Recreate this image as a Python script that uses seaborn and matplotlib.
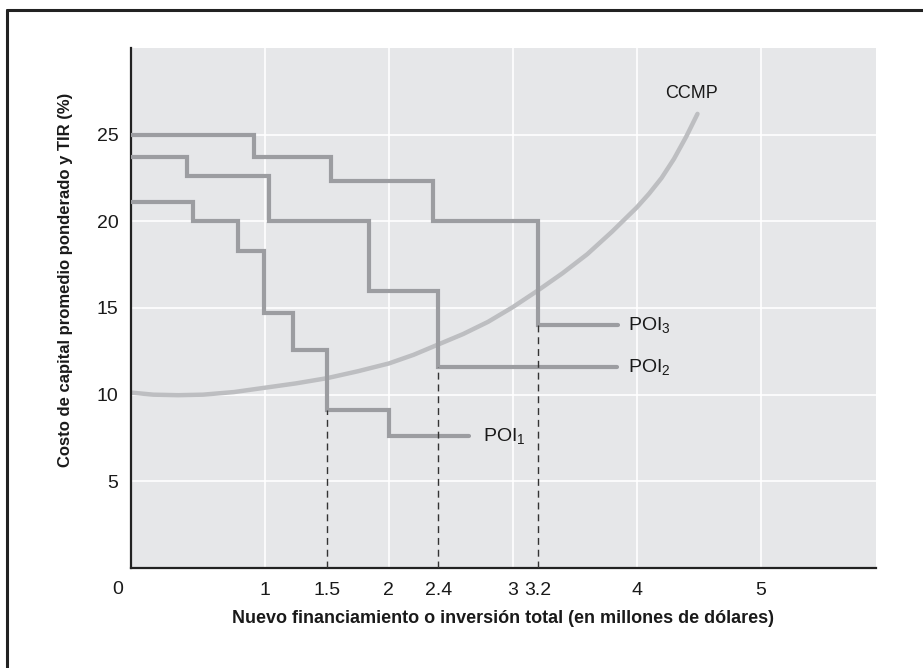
import numpy as np
import pandas as pd
import seaborn as sns
import matplotlib.pyplot as plt
from matplotlib.lines import Line2D
from matplotlib.transforms import ScaledTranslation

# Data
x_origin = -0.08
poi1_x = [x_origin, 0.42, 0.78, 0.99, 1.23, 1.5, 2.0, 2.65]
poi1_y = [21.1, 20.0, 18.3, 14.7, 12.6, 9.1, 7.6, 7.6]
poi2_x = [x_origin, 0.37, 1.03, 1.84, 2.4, 3.84]
poi2_y = [23.7, 22.6, 20.0, 16.0, 11.6, 11.6]
poi3_x = [x_origin, 0.91, 1.53, 2.36, 3.2, 3.85]
poi3_y = [25.0, 23.7, 22.3, 20.0, 14.0, 14.0]
ccmp_x = [x_origin, 0.1, 0.3, 0.5, 0.75, 1.0, 1.25, 1.5, 1.75, 2.0, 2.2, 2.4, 2.6, 2.8,
          3.0, 3.2, 3.4, 3.6, 3.8, 4.0, 4.1, 4.2, 4.3, 4.4, 4.49]
ccmp_y = [10.12, 10.0, 9.97, 10.0, 10.15, 10.4, 10.65, 10.95, 11.35, 11.8, 12.3, 12.9,
          13.5, 14.2, 15.05, 16.0, 17.0, 18.1, 19.4, 20.8, 21.6, 22.5, 23.6, 24.9, 26.2]
cut_x = [1.5, 2.4, 3.2]
cut_y = [9.1, 11.6, 14.0]
major_ticks = [1, 2, 3, 4, 5]
minor_ticks = [1.5, 2.4, 3.2]
y_ticks = [5, 10, 15, 20, 25]

sns.set_style('ticks')
fonts = ['Liberation Sans', 'DejaVu Sans']
plt.rcParams['font.family'] = fonts
plt.rcParams['mathtext.fontset'] = 'custom'
plt.rcParams['mathtext.rm'] = 'Liberation Sans'
plt.rcParams['mathtext.it'] = 'Liberation Sans'

fig = plt.figure(figsize=(9.23, 6.68), dpi=100)
ax = fig.add_axes([131/923, 100/668, 745/923, 520/668])
ax.set_facecolor('#e6e7e9')

step_col = '#9c9da1'
for xs, ys in [(poi1_x, poi1_y), (poi2_x, poi2_y), (poi3_x, poi3_y)]:
    df = pd.DataFrame({'x': xs, 'y': ys})
    ax.step(df['x'], df['y'], where='post', color=step_col, lw=3.0, zorder=3,
            solid_joinstyle='miter')
sns.lineplot(x=ccmp_x, y=ccmp_y, ax=ax, color='#bdbec1', lw=3.2, zorder=2,
             sort=False, estimator=None)
ax.vlines(cut_x, 0, cut_y, colors='#333333', linestyles=(0, (5, 3.5)), lw=1.0, zorder=4)

ax.set_xlim(x_origin, 5.93)
ax.set_ylim(0, 30)
ax.set_xticks(major_ticks)
ax.set_xticks(minor_ticks, minor=True)
ax.set_xticklabels([str(t) for t in major_ticks])
ax.set_xticklabels([str(t) for t in minor_ticks], minor=True)
ax.set_yticks(y_ticks)
ax.grid(True, which='major', color='white', lw=1.2)
ax.set_axisbelow(True)
ax.tick_params(which='both', length=0, labelsize=14, pad=10, labelcolor='#1a1a1a')
ax.tick_params(axis='y', pad=9)
for s in ['top', 'right']:
    ax.spines[s].set_visible(False)
for s in ['left', 'bottom']:
    ax.spines[s].set_color('#222222')
    ax.spines[s].set_linewidth(1.6)

# origin label sits left of the axis corner
ax.text(0, 0, '0', fontsize=14, ha='center', va='top', color='#1a1a1a',
        transform=ax.transData + ScaledTranslation(-0.23, -0.13, fig.dpi_scale_trans))

ax.set_xlabel('Nuevo financiamiento o inversión total (en millones de dólares)',
              fontsize=13, fontweight='bold', labelpad=8, color='#1a1a1a')
ax.set_ylabel('Costo de capital promedio ponderado y TIR (%)',
              fontsize=12, fontweight='bold', color='#1a1a1a')
ax.yaxis.set_label_coords(-0.078, 0.555)

ax.text(3.93, 14.0, 'POI$_3$', fontsize=14, va='center', color='#1a1a1a')
ax.text(3.93, 11.6, 'POI$_2$', fontsize=14, va='center', color='#1a1a1a')
ax.text(2.76, 7.6, 'POI$_1$', fontsize=14, va='center', color='#1a1a1a')
ax.text(4.44, 27.4, 'CCMP', fontsize=13, ha='center', va='center', color='#1a1a1a')

# outer frame (top and left edges)
fig.add_artist(Line2D([7/923, 1], [1 - 10/668, 1 - 10/668], color='#222222', lw=2.2,
                      transform=fig.transFigure))
fig.add_artist(Line2D([7/923, 7/923], [0, 1 - 10/668], color='#222222', lw=2.2,
                      transform=fig.transFigure))

fig.savefig('out.png', dpi=100)
